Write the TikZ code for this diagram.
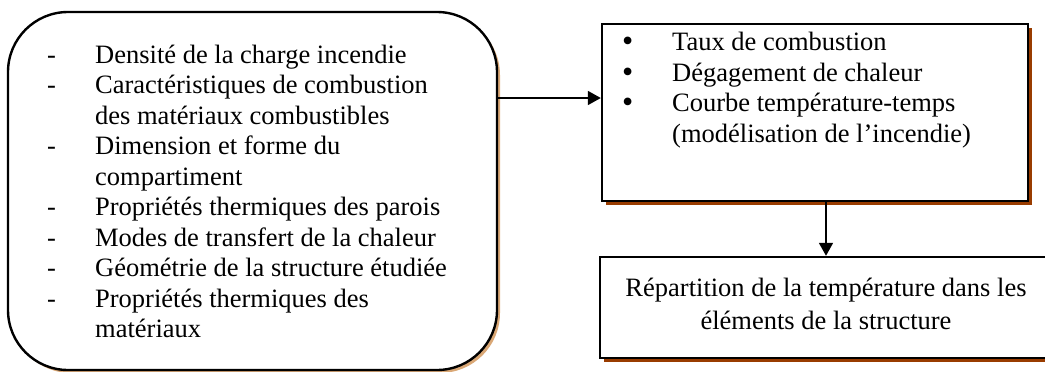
\documentclass[tikz,border=0pt]{standalone}
\usepackage{fontspec}
\setmainfont{Liberation Serif}
\usetikzlibrary{arrows.meta}
\definecolor{shadowbrown}{RGB}{153,60,0}
\definecolor{shadowtan}{RGB}{218,168,118}
\newcommand{\bigbul}{\raisebox{-1pt}{\smash{\fontsize{32}{30.5}\selectfont •}}}
\begin{document}
\begin{tikzpicture}[x=1pt,y=-1pt,
  box/.style={draw=black,line width=2.4pt,fill=white,inner sep=0pt},
  conn/.style={line width=1.8pt,-{Triangle[length=13pt,width=14pt]}},
  txt/.style={inner sep=0pt,font=\fontsize{26.5}{30.5}\selectfont}]
\useasboundingbox (0,0) rectangle (1045,372);
% shadows
\fill[shadowtan,rounded corners=60pt] (11,15) rectangle (500,373);
\fill[shadowbrown] (606,28) rectangle (1032,205);
\fill[shadowbrown] (604,261) rectangle (1050,362);
% boxes
\node[box,rounded corners=60pt,minimum width=489pt,minimum height=358pt] (left) at (252.5,191) {};
\node[box,minimum width=426pt,minimum height=177pt] (top) at (815,112.5) {};
\node[box,minimum width=446pt,minimum height=101pt] (bot) at (823,307.5) {};
% texts
\node[txt,anchor=north west] (ltext) at (47,41.6) {%
\begin{tabular}{@{}p{48pt}@{}l@{}}
- & Densité de la charge incendie\\
- & Caractéristiques de combustion\\
  & des matériaux combustibles\\
- & Dimension et forme du\\
  & compartiment\\
- & Propriétés thermiques des parois\\
- & Modes de transfert de la chaleur\\
- & Géométrie de la structure étudiée\\
- & Propriétés thermiques des\\
  & matériaux
\end{tabular}};
\node[txt,anchor=north west] (ttext) at (622,29) {%
\begin{tabular}{@{}p{50pt}@{}l@{}}
\bigbul & Taux de combustion\\
\bigbul & Dégagement de chaleur\\
\bigbul & Courbe température-temps\\
  & (modélisation de l’incendie)
\end{tabular}};
\node[txt,anchor=north] (btext) at (826,275) {%
\begin{tabular}{@{}c@{}}
Répartition de la température dans les\\[2pt]
éléments de la structure
\end{tabular}};
% connectors
\draw[conn] ([yshift=93pt]left.east) -- ([yshift=93pt]left.east -| top.west);
\draw[conn] ([xshift=11pt]top.south) -- ([xshift=11pt]top.south |- bot.north);
\end{tikzpicture}
\end{document}
